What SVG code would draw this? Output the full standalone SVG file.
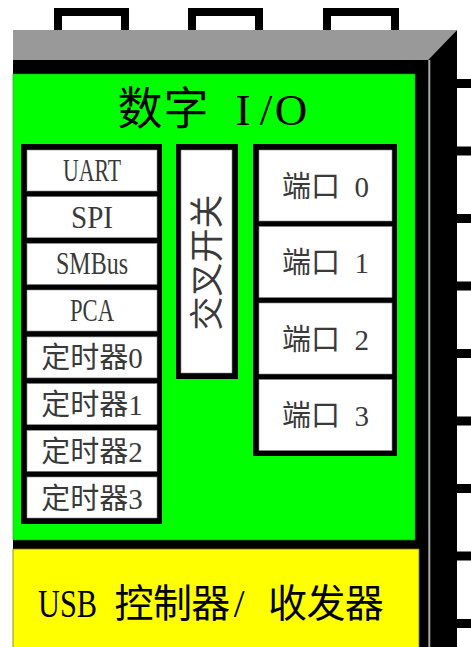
<svg xmlns="http://www.w3.org/2000/svg" width="471" height="647" viewBox="0 0 471 647">
<style>
.t { font-family: "Liberation Serif", "Noto Sans CJK SC", serif; text-anchor: middle; }
.s { font-family: "Liberation Serif", "Noto Sans CJK SC", serif; text-anchor: start; }
.item { font-size: 29px; fill: #3a3a3a; }
.lat { font-size: 32px; fill: #3a3a3a; }
.pin { fill: #fff; stroke: #000; stroke-width: 8; }
.bar { fill: #000; }
.frame { fill: #000; }
.cell { fill: #fff; stroke: #888; stroke-width: 0.6; }
</style>
<rect width="471" height="647" fill="#fff"/>
<g id="top-pins">
  <rect class="pin" x="58" y="12" width="67" height="30"/>
  <rect class="pin" x="192" y="12" width="67" height="30"/>
  <rect class="pin" x="327" y="12" width="68" height="30"/>
</g>
<g id="right-pins">
  <rect class="bar" x="457" y="79" width="14" height="9"/>
  <rect class="bar" x="457" y="146.5" width="14" height="9"/>
  <rect class="bar" x="457" y="214" width="14" height="9"/>
  <rect class="bar" x="457" y="281.5" width="14" height="9"/>
  <rect class="bar" x="457" y="349" width="14" height="9"/>
  <rect class="bar" x="457" y="416.5" width="14" height="9"/>
  <rect class="bar" x="457" y="484" width="14" height="9"/>
  <rect class="bar" x="457" y="551.5" width="14" height="9"/>
  <rect class="bar" x="457" y="619" width="14" height="9"/>
</g>
<g id="chip">
  <polygon points="13,30 457,30 428,60 13,60" fill="#999"/>
  <polygon points="428,60 457,30 457,647 428,647" fill="#000"/>
  <rect x="13" y="60" width="416" height="587" fill="#000"/>
  <rect x="428.3" y="60" width="2" height="587" fill="#a8a8a8"/>
</g>
<g id="digital-io">
  <rect x="13" y="74" width="402" height="466" fill="#00ff00" stroke="#1a9a1a" stroke-width="0.6"/>
  <text class="t" x="140 186 209 243 266 291" y="125" font-size="45" fill="#000">数字 I/O</text>
</g>
<g id="peripherals">
  <rect class="frame" x="21" y="144" width="141" height="380"/>
  <g id="uart"><rect class="cell" x="27" y="150" width="130" height="41"/><text class="t lat" x="92" y="181" textLength="58" lengthAdjust="spacingAndGlyphs">UART</text></g>
  <g id="spi"><rect class="cell" x="27" y="196.7" width="130" height="41"/><text class="t lat" x="92" y="227.7" textLength="42" lengthAdjust="spacingAndGlyphs">SPI</text></g>
  <g id="smbus"><rect class="cell" x="27" y="243.4" width="130" height="41"/><text class="t lat" x="92" y="274.4" textLength="72" lengthAdjust="spacingAndGlyphs">SMBus</text></g>
  <g id="pca"><rect class="cell" x="27" y="290" width="130" height="41"/><text class="t lat" x="92" y="321" textLength="44" lengthAdjust="spacingAndGlyphs">PCA</text></g>
  <g id="timer0"><rect class="cell" x="27" y="336.9" width="130" height="41"/><text class="t item" x="55.75 84.75 113.75 135.5" y="368.4">定时器0</text></g>
  <g id="timer1"><rect class="cell" x="27" y="383.6" width="130" height="41"/><text class="t item" x="55.75 84.75 113.75 135.5" y="415.1">定时器1</text></g>
  <g id="timer2"><rect class="cell" x="27" y="430.3" width="130" height="41"/><text class="t item" x="55.75 84.75 113.75 135.5" y="461.8">定时器2</text></g>
  <g id="timer3"><rect class="cell" x="27" y="477" width="130" height="41"/><text class="t item" x="55.75 84.75 113.75 135.5" y="508.5">定时器3</text></g>
</g>
<g id="crossbar">
  <rect class="frame" x="176" y="144" width="62" height="235"/>
  <rect class="cell" x="181" y="150" width="51" height="223"/>
  <text class="t" x="206.5" y="275.4" font-size="34" fill="#3a3a3a" transform="rotate(-90 206.5 262.5)">交叉开关</text>
</g>
<g id="ports">
  <rect class="frame" x="253" y="144" width="144" height="312"/>
  <g id="port0"><rect class="cell" x="259" y="150" width="133" height="71"/><text class="t item" x="296.5 325.5 347 361.75" y="196.5">端口 0</text></g>
  <g id="port1"><rect class="cell" x="259" y="226.5" width="133" height="71"/><text class="t item" x="296.5 325.5 347 361.75" y="273">端口 1</text></g>
  <g id="port2"><rect class="cell" x="259" y="303" width="133" height="71"/><text class="t item" x="296.5 325.5 347 361.75" y="349.5">端口 2</text></g>
  <g id="port3"><rect class="cell" x="259" y="379.5" width="133" height="71"/><text class="t item" x="296.5 325.5 347 361.75" y="426">端口 3</text></g>
</g>
<g id="usb">
  <rect x="13" y="549" width="406" height="100" fill="#ffff00" stroke="#7a7a00" stroke-width="0.8"/>
  <text class="s" y="617" font-size="39" fill="#000"><tspan x="38" font-size="41" textLength="59" lengthAdjust="spacingAndGlyphs">USB</tspan> <tspan x="114.6 152.9 191.2 233.8">控制器/</tspan> <tspan x="268.1 306.4 344.7">收发器</tspan></text>
</g>
<g id="connectors"/>
</svg>
